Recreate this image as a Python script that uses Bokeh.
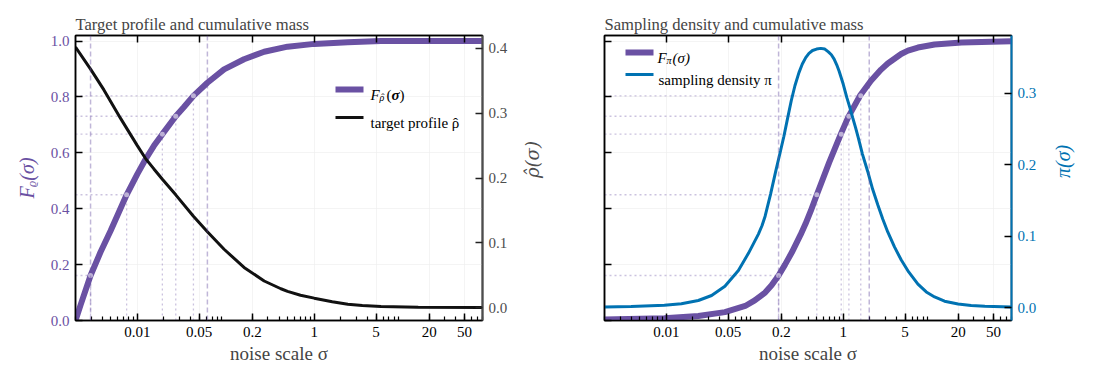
from math import pi as PI

from bokeh.plotting import figure
from bokeh.layouts import row
from bokeh.models import (Range1d, LinearAxis, LogAxis, FixedTicker, Label,
                          BoxAnnotation, Span, NumeralTickFormatter)
from bokeh.embed import file_html
from bokeh.resources import INLINE

SERIF = "Liberation Serif"
PURPLE = "#6a51a3"
BLUE = "#0072b2"
GREY = "#4d4d4d"

SIGMA_MIN, SIGMA_MAX = 0.002, 80.0

# target profile rho_hat(sigma) (density in log sigma)
rho_sigma = [0.002, 0.00296, 0.00419, 0.00647, 0.01, 0.0124, 0.0154, 0.0192,
             0.0272, 0.0431, 0.062, 0.0957, 0.161, 0.272, 0.42, 0.5, 0.7, 1.0,
             1.6, 2.4, 3.5, 5.7, 15.0, 80.0]
rho_hat = [0.402, 0.368, 0.336, 0.292, 0.250, 0.230, 0.214, 0.198,
           0.174, 0.141, 0.117, 0.090, 0.062, 0.041, 0.029, 0.025, 0.019, 0.0145,
           0.009, 0.005, 0.003, 0.0016, 0.0003, 0.0]

# cumulative mass of the target profile
F_rho_sigma = [0.002, 0.00228, 0.00296, 0.00384, 0.00499, 0.00757, 0.01, 0.0124,
               0.0154, 0.0192, 0.0272, 0.0337, 0.0431, 0.062, 0.0957, 0.161,
               0.272, 0.5, 1.0, 2.4, 5.7, 80.0]
F_rho = [0.0, 0.055, 0.161, 0.245, 0.321, 0.45, 0.524, 0.577,
         0.625, 0.667, 0.731, 0.764, 0.804, 0.851, 0.899, 0.935,
         0.962, 0.980, 0.990, 0.996, 1.0, 1.0]

# sampling density pi(sigma)
pi_sigma = [0.002, 0.004, 0.0095, 0.0148, 0.023, 0.0325, 0.046, 0.0653, 0.0848,
            0.110, 0.121, 0.131, 0.151, 0.172, 0.196, 0.2136, 0.235, 0.259, 0.285,
            0.316, 0.345, 0.377, 0.41, 0.45, 0.50, 0.558, 0.62, 0.68, 0.735, 0.79,
            0.845, 0.90, 1.0, 1.10, 1.19, 1.28, 1.38, 1.48, 1.65, 1.89, 2.15, 2.46,
            2.8, 3.19, 3.8, 4.52, 5.5, 7.0, 8.7, 10.8, 14.0, 19.9, 28.0, 40.0, 80.0]
pi_density = [0.001, 0.0017, 0.0033, 0.0055, 0.010, 0.017, 0.030, 0.052, 0.076,
              0.103, 0.115, 0.128, 0.159, 0.190, 0.220, 0.240, 0.265, 0.290, 0.311,
              0.329, 0.341, 0.350, 0.356, 0.360, 0.362, 0.363, 0.362, 0.358, 0.354,
              0.348, 0.340, 0.331, 0.313, 0.294, 0.280, 0.266, 0.252, 0.238, 0.215,
              0.191, 0.166, 0.144, 0.124, 0.106, 0.085, 0.067, 0.050, 0.033, 0.022,
              0.015, 0.009, 0.005, 0.003, 0.002, 0.001]

# cumulative mass of the sampling density
F_pi_sigma = [0.002, 0.0095, 0.023, 0.046, 0.078, 0.1, 0.131, 0.155, 0.186, 0.22,
              0.263, 0.331, 0.374, 0.43, 0.503, 0.693, 0.94, 1.14, 1.56, 2.06,
              2.68, 3.19, 4.52, 5.4, 7.0, 10.8, 21.8, 80.0]
F_pi = [0.004, 0.008, 0.016, 0.030, 0.052, 0.072, 0.100, 0.126, 0.161, 0.200,
        0.244, 0.308, 0.345, 0.392, 0.45, 0.565, 0.667, 0.728, 0.806, 0.858,
        0.898, 0.920, 0.954, 0.966, 0.977, 0.988, 0.995, 0.999]

# cumulative-mass levels marked on both F curves, and where they are reached
q_levels = [0.161, 0.45, 0.667, 0.731, 0.804]
q_sigma_rho = [0.00296, 0.00757, 0.0192, 0.0272, 0.0431]
q_sigma_pi = [0.186, 0.503, 0.95, 1.16, 1.58]
band_rho = [0.00296, 0.062]
band_pi = [0.186, 1.97]

x_ticks = [0.01, 0.05, 0.2, 1, 5, 20, 50]
x_tick_labels = ["0.01", "0.05", "0.2", "1", "5", "20", "50"]
F_ticks = [0.0, 0.2, 0.4, 0.6, 0.8, 1.0]
rho_ticks = [0.0, 0.1, 0.2, 0.3, 0.4]
pi_ticks = [0.0, 0.1, 0.2, 0.3]

minor_x = [m * 10.0 ** e for e in range(-3, 2) for m in range(2, 10)
           if SIGMA_MIN <= m * 10.0 ** e <= SIGMA_MAX]


def tick_style(ax, color="black", size="15px", label_color=None, line_width=1.5):
    ax.major_tick_in = 7
    ax.major_tick_out = 0
    ax.minor_tick_in = 0
    ax.minor_tick_out = 0
    ax.major_tick_line_color = color
    ax.major_tick_line_width = 1.5
    ax.axis_line_color = color
    ax.axis_line_width = line_width
    ax.major_label_text_font = SERIF
    ax.major_label_text_font_size = size
    ax.major_label_text_color = label_color or color
    ax.major_label_standoff = 6
    ax.axis_label_text_font = SERIF
    ax.axis_label_text_font_style = "italic"
    ax.axis_label_text_font_size = "20px"


def ticks_only(ax):
    # tick marks without any tick labels
    ax.major_label_text_font_size = "1px"
    ax.major_label_text_color = None
    ax.major_label_standoff = 0


def read_upwards(ax):
    if "axis_label_orientation" in ax.properties():
        ax.axis_label_orientation = PI / 2


def text(p, x, y, s, size, color="black", style="normal", align="left"):
    p.add_layout(Label(x=x, y=y, x_units="screen", y_units="screen", text=s,
                       text_font=SERIF, text_font_size=f"{size}px",
                       text_font_style=style, text_color=color,
                       text_align=align, text_baseline="alphabetic"))


def swatch(p, x, y, color, thickness):
    p.add_layout(BoxAnnotation(left=x, right=x + 28, bottom=y - thickness / 2,
                               top=y + thickness / 2, left_units="screen",
                               right_units="screen", top_units="screen",
                               bottom_units="screen", fill_color=color,
                               fill_alpha=1.0, line_color=None))


def panel(title, width, border_left, border_right):
    p = figure(width=width, height=383, x_axis_type="log",
               x_range=Range1d(SIGMA_MIN, SIGMA_MAX), y_range=Range1d(0, 1.02),
               min_border_left=border_left, min_border_right=border_right,
               min_border_top=35, min_border_bottom=63,
               toolbar_location=None, output_backend="svg", title=title)
    p.title.text_font = SERIF
    p.title.text_font_size = "16.6px"
    p.title.text_font_style = "normal"
    p.title.standoff = 4
    p.outline_line_color = "black"
    p.outline_line_width = 1.5
    p.background_fill_color = "white"
    p.border_fill_color = "white"

    p.xgrid.ticker = FixedTicker(ticks=x_ticks)
    p.ygrid.ticker = FixedTicker(ticks=F_ticks)
    p.xgrid.grid_line_color = "#ececec"
    p.ygrid.grid_line_color = "#ececec"
    p.xgrid.grid_line_alpha = 0.6
    p.ygrid.grid_line_alpha = 0.6

    xa = p.xaxis[0]
    xa.ticker = FixedTicker(ticks=x_ticks, minor_ticks=minor_x)
    xa.major_label_overrides = {t: s for t, s in zip(x_ticks, x_tick_labels)}
    tick_style(xa)
    xa.major_label_text_color = "black"
    xa.minor_tick_in = 4
    xa.minor_tick_line_color = "black"
    xa.minor_tick_line_width = 1.2
    xa.axis_label = "noise scale σ"
    xa.axis_label_text_font_style = "normal"
    xa.axis_label_text_font_size = "19px"
    xa.axis_label_standoff = 3

    top = LogAxis(ticker=FixedTicker(ticks=x_ticks, minor_ticks=[]))
    tick_style(top)
    ticks_only(top)
    p.add_layout(top, "above")

    ya = p.yaxis[0]
    ya.ticker = FixedTicker(ticks=F_ticks)
    ya.formatter = NumeralTickFormatter(format="0.0")
    return p


def ref_lines(p, q_sigma, band):
    for s in band:
        p.add_layout(Span(location=s, dimension="height", line_color=PURPLE,
                          line_alpha=0.42, line_width=1.5, line_dash="5 3"))
    p.segment(x0=q_sigma, y0=[0.0] * len(q_sigma), x1=q_sigma, y1=q_levels,
              line_color=PURPLE, line_alpha=0.35, line_width=1.3, line_dash="2 3")
    p.segment(x0=[SIGMA_MIN] * len(q_sigma), y0=q_levels, x1=q_sigma, y1=q_levels,
              line_color=PURPLE, line_alpha=0.35, line_width=1.3, line_dash="2 3")


# ---- left: target profile and its cumulative mass
left = panel("Target profile and cumulative mass", 590, 75, 108)
ya = left.yaxis[0]
tick_style(ya, color="black", label_color=PURPLE)
ya.axis_label = "F\u1d68(σ)"
ya.axis_label_text_color = PURPLE
ya.axis_label_standoff = 10

left.extra_y_ranges = {"rho": Range1d(-0.02, 0.42)}
ax_rho = LinearAxis(y_range_name="rho", ticker=FixedTicker(ticks=rho_ticks),
                    formatter=NumeralTickFormatter(format="0.0"), axis_label="ρ̂(σ)")
tick_style(ax_rho, color=GREY, line_width=2)
ax_rho.major_tick_line_color = "#222222"
ax_rho.axis_label_text_font = "DejaVu Serif"
ax_rho.axis_label_text_font_size = "18px"
ax_rho.axis_label_text_color = GREY
ax_rho.axis_label_standoff = 22
read_upwards(ax_rho)
left.add_layout(ax_rho, "right")

ref_lines(left, q_sigma_rho, band_rho)
left.line(F_rho_sigma, F_rho, line_color=PURPLE, line_width=6)
left.scatter(q_sigma_rho, q_levels, size=5, fill_color="white", fill_alpha=0.55,
             line_color=None)
left.line(rho_sigma, rho_hat, y_range_name="rho", line_color="#111111", line_width=3)

# legend
swatch(left, 260, 231, PURPLE, 6)
text(left, 295, 226, "F", 15, "black", "italic")
text(left, 304, 223, "ρ", 10, "black", "italic")
text(left, 307.5, 223, "ˆ", 10, "black", "normal", "center")
text(left, 311, 226, "(", 15)
text(left, 316, 226, "σ", 15, "black", "bold italic")
text(left, 324, 226, ")", 15)
swatch(left, 260, 203, "#111111", 3)
text(left, 295, 198, "target profile ρ", 15)
text(left, 380, 198, "ˆ", 15, "black", "normal", "center")

# ---- right: sampling density and its cumulative mass
right = panel("Sampling density and cumulative mass", 503, 14, 82)
tick_style(right.yaxis[0], color="black")
ticks_only(right.yaxis[0])
right.extra_y_ranges = {"pi": Range1d(-0.018, 0.381)}
ax_pi = LinearAxis(y_range_name="pi", ticker=FixedTicker(ticks=pi_ticks),
                   formatter=NumeralTickFormatter(format="0.0"), axis_label="π(σ)")
tick_style(ax_pi, color=BLUE, line_width=2)
ax_pi.major_tick_line_color = "black"
ax_pi.axis_label_text_color = BLUE
ax_pi.axis_label_standoff = 24
read_upwards(ax_pi)
right.add_layout(ax_pi, "right")

ref_lines(right, q_sigma_pi, band_pi)
right.line(F_pi_sigma, F_pi, line_color=PURPLE, line_width=6)
right.scatter(q_sigma_pi, q_levels, size=5, fill_color="white", fill_alpha=0.55,
              line_color=None)
right.line(pi_sigma, pi_density, y_range_name="pi", line_color=BLUE, line_width=3)

swatch(right, 21, 268, PURPLE, 6)
text(right, 53, 263, "F", 15, "black", "italic")
text(right, 62, 260, "π", 10, "black", "italic")
text(right, 68, 263, "(σ)", 15, "black", "italic")
swatch(right, 21, 246, BLUE, 3)
text(right, 54, 241, "sampling density π", 15)

layout = row(left, right)
open("out.html", "w").write(file_html(layout, INLINE))
